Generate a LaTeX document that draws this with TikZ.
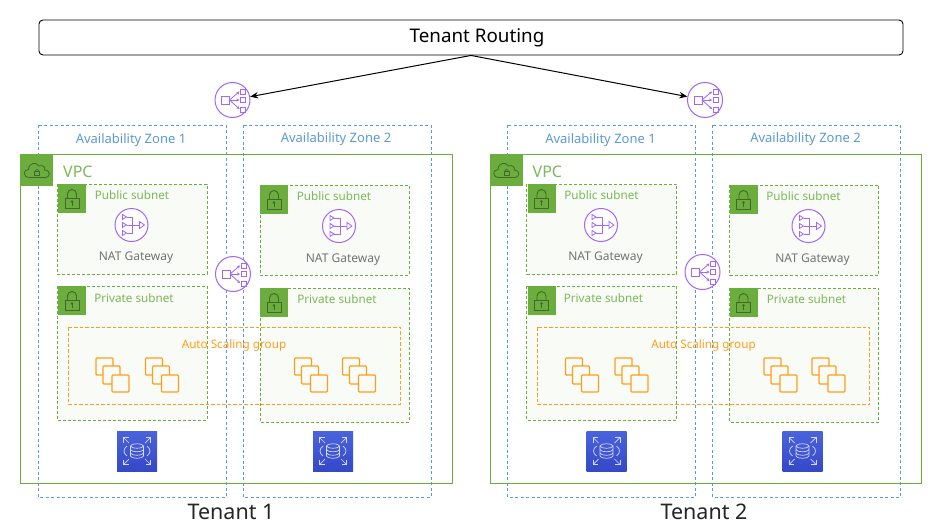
\documentclass[tikz,border=0pt]{standalone}
\usepackage{fontspec}
\setmainfont{Noto Sans}
\usetikzlibrary{arrows.meta}
\definecolor{vpcgreen}{HTML}{6CAE3E}
\definecolor{sublabelgreen}{HTML}{7DB85A}
\definecolor{subfill}{HTML}{F8FBF6}
\definecolor{azblue}{HTML}{5B9BD5}
\definecolor{albpurple}{HTML}{A166FF}
\definecolor{asgorange}{HTML}{FF9E1B}
\definecolor{dbblue}{HTML}{3548C8}
\definecolor{dbbluelight}{HTML}{4A63DC}
\definecolor{lockgrey}{HTML}{44662F}
\tikzset{
  x=1pt,y=-1pt,
  vpcbox/.style={draw=vpcgreen,line width=0.9pt},
  subnetbox/.style={draw=vpcgreen,fill=subfill,line width=0.8pt,dash pattern=on 3pt off 2pt},
  azbox/.style={draw=azblue,line width=0.9pt,dash pattern=on 3pt off 2.5pt},
  asgbox/.style={draw=asgorange,line width=0.8pt,dash pattern=on 3.5pt off 2pt},
  azlabel/.style={text=azblue,font=\fontsize{13}{15}\selectfont,inner sep=0pt},
  sublabel/.style={text=sublabelgreen,font=\fontsize{11.7}{14}\selectfont,inner sep=0pt},
  natlabel/.style={text=black!55,font=\fontsize{12}{14}\selectfont,inner sep=0pt},
  asglabel/.style={text=asgorange,font=\fontsize{11.7}{14}\selectfont,inner sep=0pt},
  tenantlabel/.style={font=\fontsize{21.5}{24}\selectfont,inner sep=0pt,text=black!85},
  routebox/.style={draw=black,rounded corners=4pt,line width=0.9pt,fill=white,minimum width=864,minimum height=35,inner sep=0pt,font=\fontsize{18.8}{22}\selectfont},
  albnode/.style={circle,minimum size=35,inner sep=0pt,draw=albpurple,line width=1pt,fill=white},
  link/.style={draw=black,line width=1pt,-{Stealth[length=8pt,width=6.5pt]}},
  iconline/.style={line width=0.8pt},
  pics/lockicon/.style={code={
    \fill[vpcgreen] (-14,-14.5) rectangle (14,14.5);
    \draw[lockgrey,line width=0.9pt] (-7,-0.5) rectangle (7,9.5);
    \draw[lockgrey,line width=0.9pt] (-4.5,-0.5) -- (-4.5,-4.5) arc[start angle=180,end angle=360,radius=4.5] -- (4.5,-0.5);
    \fill[lockgrey] (0,3) circle (1.4);
    \draw[lockgrey,line width=0.7pt] (0,3) -- (0,7);
  }},
  pics/cloudicon/.style={code={
    \fill[vpcgreen] (-16,-15.5) rectangle (16,15.5);
    \draw[lockgrey,line width=0.8pt] (-7,7) .. controls (-15,7) and (-14,-1) .. (-8.5,-1) .. controls (-8,-8) and (-1,-9) .. (2,-4.5) .. controls (6,-6) and (9,-3) .. (7.5,-0.5) .. controls (14,0) and (14,7) .. (7.5,7) -- cycle;
    \draw[lockgrey,line width=0.7pt] (-2.5,1) rectangle (2.5,5);
    \draw[lockgrey,line width=0.7pt] (-1.5,1) -- (-1.5,0) arc[start angle=180,end angle=360,radius=1.5] -- (1.5,1);
  }},
  pics/albglyph/.style={code={
    \begin{scope}[albpurple,iconline]
    \draw (-11,-4) rectangle (-3,4);
    \draw[-{Stealth[length=3pt,width=3pt]}] (-3,0) -- (7,-8.5);
    \draw[-{Stealth[length=3pt,width=3pt]}] (-3,0) -- (7,0);
    \draw[-{Stealth[length=3pt,width=3pt]}] (-3,0) -- (7,9);
    \draw (8,-11) rectangle (13,-6);
    \draw (8,-2.5) rectangle (13,2.5);
    \draw (8,7) rectangle (13,12);
    \end{scope}
  }},
  pics/naticon/.style={code={
    \draw[albpurple,line width=1pt,fill=white] (0,0) circle (16.5);
    \begin{scope}[albpurple,iconline]
    \draw (-9,-10.5) -- (-5,-8) -- (-9,-5.5) -- cycle;
    \draw (-9,-2.5) -- (-5,0) -- (-9,2.5) -- cycle;
    \draw (-9,5.5) -- (-5,8) -- (-9,10.5) -- cycle;
    \draw (-5,-8) -- (1,-8) -- (1,8) -- (-5,8);
    \draw (-5,0) -- (8,0);
    \draw (8,-3.5) -- (13,0) -- (8,3.5) -- cycle;
    \end{scope}
  }},
  pics/stackicon/.style={code={
    \begin{scope}[asgorange,line width=1.3pt,fill=subfill]
    \filldraw[rounded corners=1pt] (-16.5,-17) rectangle (0.5,0);
    \filldraw[rounded corners=1pt] (-9.5,-9) rectangle (7.5,9);
    \filldraw[rounded corners=1pt] (-0.5,0) rectangle (16.5,17);
    \end{scope}
  }},
  pics/dbicon/.style={code={
    \shade[bottom color=dbblue,top color=dbbluelight] (-20,-20) rectangle (20,20);
    \begin{scope}[white!80!dbblue,line width=0.7pt]
    \draw (-6.5,-5) -- (-6.5,5) arc[start angle=180,end angle=0,x radius=6.5,y radius=2.2] -- (6.5,-5);
    \draw (0,-5) ellipse[x radius=6.5,y radius=2.2];
    \draw (-6.5,-1.5) arc[start angle=180,end angle=0,x radius=6.5,y radius=2.2];
    \draw (-6.5,2) arc[start angle=180,end angle=0,x radius=6.5,y radius=2.2];
    \draw (-10,-5) .. controls (-14,-2) and (-14,2) .. (-10,5);
    \draw (10,-5) .. controls (14,-2) and (14,2) .. (10,5);
    \foreach \sx/\sy in {-1/-1,1/-1,-1/1,1/1}{
      \draw (\sx*8,\sy*8) -- (\sx*13.5,\sy*13.5);
      \draw (\sx*13.5,\sy*8.5) -- (\sx*13.5,\sy*13.5) -- (\sx*8.5,\sy*13.5);
    }
    \end{scope}
  }},
}
\newcommand{\tenantbody}[3]{%
  % VPC
  \draw[vpcbox] (20.5,154.5) rectangle (452,483);
  \node[anchor=west,text=sublabelgreen,font=\fontsize{16}{18}\selectfont,inner sep=0pt] (vpc) at (63,172) {VPC};
  % subnets
  \draw[subnetbox] (57,184) rectangle (207,274);
  \draw[subnetbox] (57,286) rectangle (207,420);
  \draw[subnetbox] (260,185) rectangle (409,275);
  \draw[subnetbox] (260,288) rectangle (409,422);
  \pic at (72,198.5) {lockicon};
  \pic at (72,300.5) {lockicon};
  \pic at (274,199.5) {lockicon};
  \pic at (274,302.5) {lockicon};
  \node[sublabel] (pub1) at (132,195) {Public subnet};
  \node[sublabel] (pub2) at (334,196) {Public subnet};
  \node[sublabel] (pri1) at (134,298) {Private subnet};
  \node[sublabel] (pri2) at (337,299) {Private subnet};
  \pic at (131.5,225) {naticon};
  \pic at (339,226) {naticon};
  \node[natlabel] (nat1) at (136,258) {NAT Gateway};
  \node[natlabel] (nat2) at (343,260) {NAT Gateway};
  % ASG
  \draw[asgbox] (68,327) rectangle (400,404);
  \pic at (112.5,375) {stackicon};
  \pic at (162,375) {stackicon};
  \pic at (311,375) {stackicon};
  \pic at (359,375) {stackicon};
  \node[asglabel] (asg) at (234,345) {Auto Scaling group};
  % DB
  \pic at (137,451) {dbicon};
  \pic at (333,451) {dbicon};
  % AZ
  \draw[azbox] (38,125) rectangle (226,497);
  \draw[azbox] (243,125) rectangle (431,497);
  \node[azlabel] (az1) at (131,140) {Availability Zone 1};
  \node[azlabel] (az2) at (336,139) {Availability Zone 2};
  \pic at (37,170.5) {cloudicon};
  % internal ALB
  \node[albnode] (alb) at (233,#2) {};
  \pic at (233,#2) {albglyph};
  \node[tenantlabel] (ten) at (#3,512) {Tenant #1};
}
\begin{document}
\begin{tikzpicture}[x=1pt,y=-1pt]
\useasboundingbox (0,0) rectangle (944,532);
\fill[white] (0,0) rectangle (944,532);
\begin{scope}[name prefix=a-]
  \tenantbody{1}{274}{231}
\end{scope}
\begin{scope}[shift={(469.5,0)},name prefix=b-]
  \tenantbody{2}{272}{234.5}
\end{scope}
\node[routebox] (routing) at (471,37.5) {\hspace{12pt}Tenant Routing};
\node[albnode] (top1) at (232.5,100) {};
\pic at (232.5,100) {albglyph};
\node[albnode] (top2) at (705,100) {};
\pic at (705,100) {albglyph};
\draw[link] (routing.south) -- (top1);
\draw[link] (routing.south) -- (top2);
\end{tikzpicture}
\end{document}
